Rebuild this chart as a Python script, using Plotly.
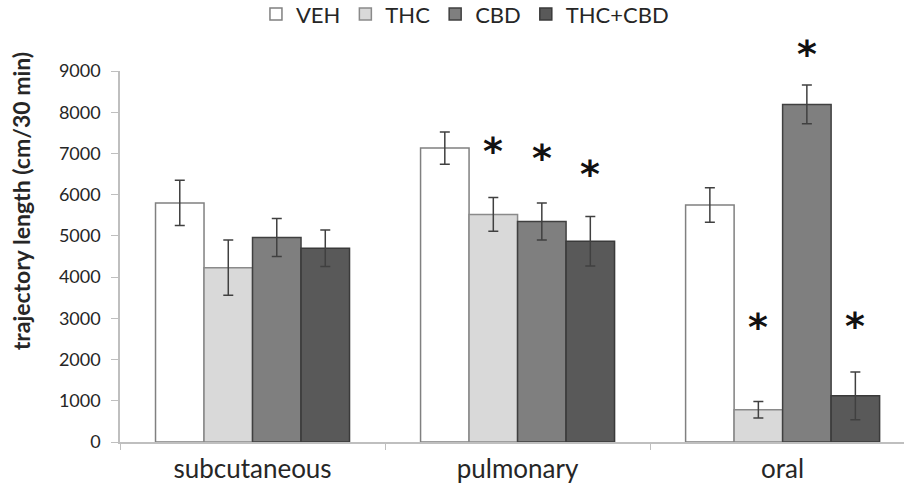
import plotly.graph_objects as go

# Locomotor activity by route of administration
categories = ["subcutaneous", "pulmonary", "oral"]
series_names = ["VEH", "THC", "CBD", "THC+CBD"]

veh = [5800, 7130, 5750]
veh_err = [550, 390, 420]
thc = [4230, 5520, 780]
thc_err = [670, 410, 200]
cbd = [4960, 5350, 8190]
cbd_err = [460, 450, 470]
thc_cbd = [4700, 4870, 1120]
thc_cbd_err = [440, 600, 580]

# significance markers: (category index, series index, label height)
stars_cat = [1, 1, 1, 2, 2, 2]
stars_series = [1, 2, 3, 1, 2, 3]
stars_y = [7160, 6980, 6610, 2880, 9500, 2910]

y_ticks = [0, 1000, 2000, 3000, 4000, 5000, 6000, 7000, 8000, 9000]
Y_MAX = 9000

values = [veh, thc, cbd, thc_cbd]
errors = [veh_err, thc_err, cbd_err, thc_cbd_err]
fills = ["#ffffff", "#d9d9d9", "#7f7f7f", "#595959"]
outlines = ["#808080", "#8a8a8a", "#404040", "#3a3a3a"]

FONT = "Lato"
BARGAP = 0.268

fig = go.Figure()
for name, vals, errs, fill, edge in zip(series_names, values, errors, fills, outlines):
    fig.add_trace(go.Bar(
        name=name,
        x=categories,
        y=vals,
        marker=dict(color=fill, line=dict(color=edge, width=1.5)),
        error_y=dict(type="data", array=errs, visible=True,
                     color="#404040", thickness=1.5, width=5),
    ))

# star annotations centred over their bars (paper y so the top one is kept)
n = len(series_names)
bar_w = (1 - BARGAP) / n
for c, s, yv in zip(stars_cat, stars_series, stars_y):
    xpos = c - (1 - BARGAP) / 2 + bar_w * (s + 0.5)
    fig.add_annotation(x=xpos, y=yv / Y_MAX, xref="x", yref="paper", text="<b>*</b>",
                       showarrow=False, xanchor="center", yanchor="middle", yshift=-4,
                       font=dict(family="DejaVu Sans", size=38, color="#111111"))

# vertical axis title
fig.add_annotation(x=-0.127, y=0.65, xref="paper", yref="paper",
                   text="<b>trajectory length (cm/30 min)</b>", textangle=-90,
                   showarrow=False, xanchor="center", yanchor="middle",
                   font=dict(family=FONT, size=23, color="#262626"))

fig.update_layout(
    width=904, height=486, autosize=False,
    margin=dict(l=120, r=0, t=71, b=44, autoexpand=False),
    paper_bgcolor="white", plot_bgcolor="white",
    barmode="group", bargap=BARGAP, bargroupgap=0,
    font=dict(family=FONT, color="#262626"),
    legend=dict(orientation="h", x=0.44, xanchor="center",
                y=1.153, yanchor="middle",
                font=dict(family=FONT, size=22, color="#262626"),
                itemwidth=30, tracegroupgap=0),
    xaxis=dict(type="category", range=[-0.5, 2.458],
               showline=True, linecolor="#bfbfbf", linewidth=1.5,
               ticks="outside", tickson="boundaries", ticklen=6,
               tickcolor="#bfbfbf", showgrid=False,
               ticklabelstandoff=3,
               tickfont=dict(family=FONT, size=26, color="#262626")),
    yaxis=dict(range=[0, Y_MAX], tickvals=y_ticks,
               showline=True, linecolor="#bfbfbf", linewidth=1.5,
               ticks="outside", ticklen=7, tickcolor="#bfbfbf",
               showgrid=False, zeroline=False,
               ticklabelstandoff=7,
               tickfont=dict(family=FONT, size=18, color="#262626")),
)

fig.write_html("out.html")
